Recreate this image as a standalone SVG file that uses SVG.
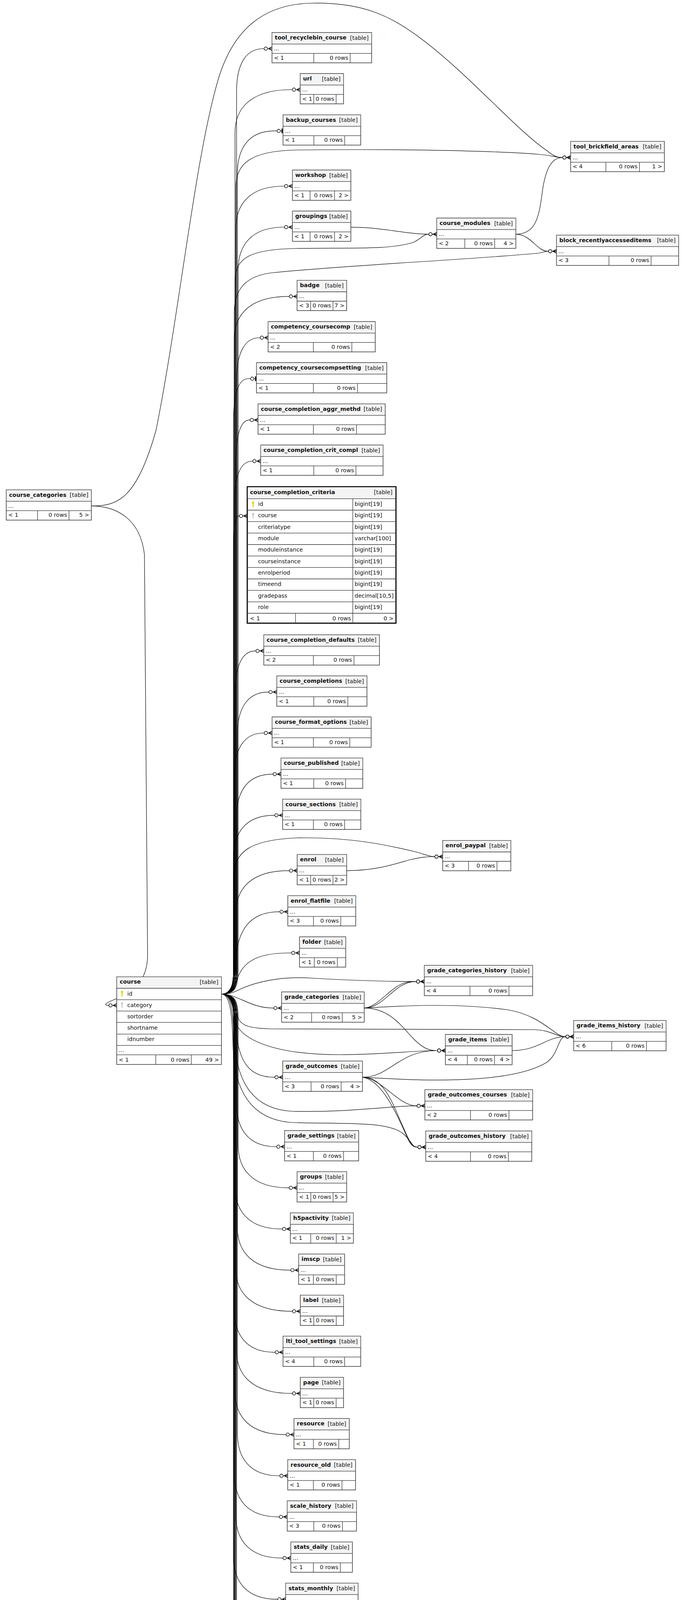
<svg xmlns="http://www.w3.org/2000/svg" width="1747" height="4922" viewBox="0 0 1747 4922">
<defs>
<style>
.bx{fill:#fff;stroke:#333;stroke-width:1.5}
.bk{fill:#fff;stroke:#000;stroke-width:2.8}
.hd{fill:#f4f4f4}
.ln{fill:none;stroke:#333;stroke-width:1.3}
text{font-family:"DejaVu Sans","Liberation Sans",sans-serif;font-size:14.4px;fill:#111}
.tt{font-weight:bold}
.e{text-anchor:end}
.ed{fill:none;stroke:#000;stroke-width:1.2;marker-end:url(#m)}
.ed1{fill:none;stroke:#000;stroke-width:1.2;marker-end:url(#o)}
.ky{fill:#d8cf00}
.kg{fill:#c4c4c4}
</style>
<marker id="m" viewBox="0 0 24 16" markerWidth="24" markerHeight="16" refX="22" refY="8" orient="auto" markerUnits="userSpaceOnUse">
<path d="M13,8L22,3.5M13,8L22,8M13,8L22,12.5" stroke="#000" stroke-width="1.6" fill="none"/>
<circle cx="6" cy="8" r="4.2" fill="#fff" stroke="#000" stroke-width="1.4"/>
</marker>
<marker id="o" viewBox="0 0 24 16" markerWidth="24" markerHeight="16" refX="22" refY="8" orient="auto" markerUnits="userSpaceOnUse">
<circle cx="11" cy="8" r="4.2" fill="#fff" stroke="#000" stroke-width="1.4"/>
<path d="M19.5,2V14" stroke="#000" stroke-width="2.6"/>
</marker>
<g id="key"><circle cx="0" cy="0" r="2.7"/><rect x="-1.1" y="1.5" width="2.2" height="10"/><rect x="0" y="7" width="2.5" height="1.6"/></g>
</defs>
<rect x="0" y="0" width="1747" height="4922" fill="#fff"/>

<g id="connectors">
<path class="ed" d="M567.3,2545C596,2545 606,2530 606,2485L606,234.5C606,169.5 626.6,124.5 674.7,124.5L696.7,124.5"/>
<path class="ed" d="M567.3,2545C592,2545 602,2530 602,2485L602,339.5C602,274.5 645.5,229.5 747,229.5L769,229.5"/>
<path class="ed1" d="M567.3,2545C598,2545 608,2530 608,2485L608,445.2C608,380.2 636.5,335.2 703,335.2L725,335.2"/>
<path class="ed" d="M567.3,2545C594,2545 604,2530 604,2485L604,586.5C604,521.5 640.9,476.5 727,476.5L749,476.5"/>
<path class="ed" d="M567.3,2545C600,2545 610,2530 610,2485L610,691.5C610,626.5 645.1,581.5 727,581.5L749,581.5"/>
<path class="ed" d="M567.3,2545C590,2545 600,2530 600,2485L600,868.9C600,803.9 641.7,758.9 739,758.9L761,758.9"/>
<path class="ed" d="M567.3,2545C596,2545 606,2530 606,2485L606,974.5C606,909.5 623.6,864.5 664.7,864.5L686.7,864.5"/>
<path class="ed1" d="M567.3,2545C588,2545 598,2530 598,2485L598,1079.5C598,1014.5 609.1,969.5 635,969.5L657,969.5"/>
<path class="ed" d="M567.3,2545C594,2545 604,2530 604,2485L604,1185.2C604,1120.2 614.5,1075.2 639,1075.2L661,1075.2"/>
<path class="ed" d="M567.3,2545C590,2545 600,2530 600,2485L600,1290.5C600,1225.5 613.7,1180.5 645.7,1180.5L667.7,1180.5"/>
<path class="ed" d="M567.3,2545C588,2545 598,2530 598,2485L598,1420.8C598,1360 600,1320.8 611.3,1320.8L633.3,1320.8"/>
<path class="ed" d="M567.3,2545C592,2545 602,2530 602,2485L602,1776.3C602,1711.3 617.5,1666.3 653.7,1666.3L675.7,1666.3"/>
<path class="ed" d="M567.3,2545C598,2545 608,2530 608,2485L608,1881.6C608,1816.6 631.7,1771.6 687,1771.6L709,1771.6"/>
<path class="ed" d="M567.3,2545C590,2545 600,2530 600,2485L600,1986.5C600,1921.5 622.5,1876.5 675,1876.5L697,1876.5"/>
<path class="ed" d="M567.3,2545C596,2545 606,2530 606,2485L606,2091.8C606,2026.8 633.5,1981.8 697.7,1981.8L719.7,1981.8"/>
<path class="ed" d="M567.3,2545C588,2545 598,2530 598,2485L598,2197.1C598,2132.1 629.2,2087.1 702,2087.1L724,2087.1"/>
<path class="ed" d="M567.3,2545C594,2545 604,2530 604,2485L604,2338.8C604,2273.8 644.6,2228.8 739.3,2228.8L761.3,2228.8"/>
<path class="ed" d="M567.3,2545C590,2545 600,2520 603,2470C606,2380 640,2334.1 715.3,2334.1L737.3,2334.1"/>
<path class="ed" d="M567.3,2545C590,2545 600,2530 610,2500C630,2450 680,2439.5 745.2,2439.5L767.2,2439.5"/>
<path class="ed" d="M567.3,2545C610,2545 640,2580.6 699.4,2580.6L721.4,2580.6"/>
<path class="ed" d="M567.3,2545C592,2545 600,2580 605,2640C612,2720 640,2757.7 702.3,2757.7L724.3,2757.7"/>
<path class="ed" d="M567.3,2545C596,2545 606,2560 606,2605L606,2825.5C606,2890.5 636.3,2935.5 707,2935.5L729,2935.5"/>
<path class="ed" d="M567.3,2545C600,2545 610,2560 610,2605L610,2930.8C610,2995.8 648.7,3040.8 739,3040.8L761,3040.8"/>
<path class="ed" d="M567.3,2545C592,2545 602,2560 602,2605L602,3036.2C602,3101.2 637.9,3146.2 721.7,3146.2L743.7,3146.2"/>
<path class="ed" d="M567.3,2545C598,2545 608,2560 608,2605L608,3141.6C608,3206.6 648.5,3251.6 743,3251.6L765,3251.6"/>
<path class="ed" d="M567.3,2545C594,2545 604,2560 604,2605L604,3246.9C604,3311.9 647,3356.9 747.3,3356.9L769.3,3356.9"/>
<path class="ed" d="M567.3,2545C590,2545 600,2560 600,2605L600,3351.8C600,3416.8 630.9,3461.8 703,3461.8L725,3461.8"/>
<path class="ed" d="M567.3,2545C596,2545 606,2560 606,2605L606,3457.2C606,3522.2 648.4,3567.2 747.3,3567.2L769.3,3567.2"/>
<path class="ed" d="M567.3,2545C592,2545 602,2560 602,2605L602,3562.6C602,3627.6 640.7,3672.6 731,3672.6L753,3672.6"/>
<path class="ed" d="M567.3,2545C598,2545 608,2560 608,2605L608,3668C608,3733 640.1,3778 715,3778L737,3778"/>
<path class="ed" d="M567.3,2545C590,2545 600,2560 600,2605L600,3773.3C600,3838.3 634.1,3883.3 713.7,3883.3L735.7,3883.3"/>
<path class="ed" d="M567.3,2545C594,2545 604,2560 604,2605L604,3878.7C604,3943.7 639.7,3988.7 723,3988.7L745,3988.7"/>
<path class="ed" d="M567.3,2545C588,2545 598,2560 598,2605L598,3984.1C598,4049.1 631.5,4094.1 709.7,4094.1L731.7,4094.1"/>
<path class="ed" d="M567.3,2545C596,2545 606,2560 606,2605L606,4089.4C606,4154.4 634.7,4199.4 701.7,4199.4L723.7,4199.4"/>
<path class="ed" d="M567.3,2545C592,2545 602,2560 602,2605L602,4194.7C602,4259.7 627.9,4304.7 688.4,4304.7L710.4,4304.7"/>
<path class="ed" d="M567.3,2545C590,2545 600,2560 600,2605L600,4300C600,4365 628,4410 693.4,4410L715.4,4410"/>
<path class="ed" d="M567.3,2545C594,2545 604,2560 604,2605L604,4405.3C604,4470.3 637.2,4515.3 714.8,4515.3L736.8,4515.3"/>
<path class="ed" d="M567.3,2545C588,2545 598,2560 598,2605L598,4510.6C598,4575.6 617.2,4620.6 661.9,4620.6L683.9,4620.6"/>
<path class="ed" d="M567.3,2545C592,2545 602,2560 602,2605L602,4615.9C602,4680.9 618,4725.9 655.4,4725.9L677.4,4725.9"/>
<path class="ed" d="M567.3,2545C590,2545 600,2560 600,2605L600,4721.2C600,4786.2 620.5,4831.2 668.2,4831.2L690.2,4831.2"/>
<path class="ed" d="M567.3,2545C594,2545 604,2530 604,2485L604,480C604,420 640,386 760,384C1000,381 1250,385 1380,395C1415,398 1425,403.3 1439.7,403.3L1461.7,403.3"/>
<path class="ed" d="M234,1295.3C300,1295.3 350,1280 400,1100C460,800 500,400 560,200C600,70 680,10 800,8C930,6 1000,40 1080,100C1200,190 1320,330 1400,385C1415,397 1425,403.3 1439.7,403.3L1461.7,403.3"/>
<path class="ed" d="M567.3,2545C592,2545 602,2530 602,2485L602,720C602,660 640,638 760,636C900,634 1000,640 1060,620C1080,610 1085,599.6 1096.7,599.6L1118.7,599.6"/>
<path class="ed" d="M898.7,581.6C980,581.6 1040,599.6 1096.7,599.6L1118.7,599.6"/>
<path class="ed" d="M567.3,2545C590,2545 600,2530 600,2485L600,800C600,740 630,705 700,698C900,678 1200,665 1380,648C1392,646 1395,643.3 1403.5,643.3L1425.5,643.3"/>
<path class="ed" d="M1321.4,599.6C1370,599.6 1380,560 1388,500C1395,440 1410,403.3 1439.7,403.3L1461.7,403.3"/>
<path class="ed" d="M1321.4,599.6C1360,599.6 1375,643.3 1403.5,643.3L1425.5,643.3"/>
<path class="ed" d="M567.3,2545C588,2545 598,2530 598,2490L598,2250C598,2180 640,2150 760,2145C900,2142 1000,2165 1070,2182C1090,2188 1100,2193 1112,2193L1134,2193"/>
<path class="ed" d="M888,2228.8C960,2228.8 1000,2215 1050,2201C1080,2194 1095,2193 1112,2193L1134,2193"/>
<path class="ed" d="M567.3,2545C590,2545 600,2540 620,2530C680,2505 740,2500 800,2504C900,2510 1000,2512.7 1064.9,2512.7L1086.9,2512.7"/>
<path class="ed" d="M933,2580.6C985,2580.6 1010,2512.7 1064.9,2512.7L1086.9,2512.7"/>
<path class="ed" d="M933,2580.6C970,2578 1000,2525 1040,2515C1050,2513 1055,2512.7 1064.9,2512.7L1086.9,2512.7"/>
<path class="ed" d="M933,2580.6C1000,2580.6 1030,2630 1060,2660C1085,2685 1100,2689.5 1118.9,2689.5L1140.9,2689.5"/>
<path class="ed" d="M933,2580.6C1000,2577 1150,2565 1300,2585C1390,2600 1420,2653.8 1447.5,2653.8L1469.5,2653.8"/>
<path class="ed" d="M567.3,2545C590,2545 600,2560 605,2590C612,2625 630,2633 700,2634L1370,2636C1410,2637 1425,2653.8 1447.5,2653.8L1469.5,2653.8"/>
<path class="ed" d="M567.3,2545C590,2545 598,2570 602,2610C610,2660 700,2700 870,2700C980,2700 1060,2689.5 1118.9,2689.5L1140.9,2689.5"/>
<path class="ed" d="M1311.8,2689.5C1380,2689.5 1400,2653.8 1447.5,2653.8L1469.5,2653.8"/>
<path class="ed" d="M928.5,2757.7C1000,2757.7 1020,2689.5 1118.9,2689.5L1140.9,2689.5"/>
<path class="ed" d="M928.5,2757.7C1050,2765 1300,2780 1400,2720C1430,2700 1430,2653.8 1447.5,2653.8L1469.5,2653.8"/>
<path class="ed" d="M928.5,2757.7C975,2757.7 1020,2830.9 1066.4,2830.9L1088.4,2830.9"/>
<path class="ed" d="M928.5,2757.7C990,2757.7 1010,2840 1035,2890C1050,2925 1055,2936.7 1068.6,2936.7L1090.6,2936.7"/>
<path class="ed" d="M928.5,2757.7C980,2765 1020,2860 1040,2905C1050,2930 1058,2936.7 1068.6,2936.7L1090.6,2936.7"/>
<path class="ed" d="M567.3,2545C590,2545 596,2580 598,2640C602,2760 640,2840 750,2845C900,2848 1000,2830.9 1066.4,2830.9L1088.4,2830.9"/>
<path class="ed" d="M567.3,2545C590,2545 595,2600 597,2680C600,2800 650,2872 760,2874C900,2877 990,2872 1030,2900C1055,2920 1055,2936.7 1068.6,2936.7L1090.6,2936.7"/>
<path class="ed" d="M234,1295.3C300,1295.3 360,1330 370,1420L378,2440C380,2520 330,2545 290,2560C270,2568 265,2573.8 277,2573.8L299,2573.8"/>
</g>

<g id="course_categories"><rect class="bx" x="16" y="1254" width="218" height="77.5"/><rect class="hd" x="16.75" y="1254.75" width="216.5" height="28.5"/><path class="ln" d="M16,1283.3H234M16,1307.3H234M96.3,1307.3V1331.5M176.7,1307.3V1331.5"/><text class="tt" x="23.3" y="1271.7">course_categories</text><text class="e" x="226.3" y="1272.2">[table]</text><text x="21" y="1299.7">...</text><text x="21" y="1323.2">&lt; 1</text><text class="e" x="171.7" y="1323.2">0 rows</text><text class="e" x="228.5" y="1323.2">5 &gt;</text></g>

<g id="course"><rect class="bx" x="299" y="2500.7" width="268.3" height="224.3"/><rect class="hd" x="299.75" y="2501.45" width="266.8" height="28.2"/><path class="ln" d="M299,2530H567.3M299,2559.3H567.3M299,2588.3H567.3M299,2617.3H567.3M299,2647.3H567.3M299,2676.3H567.3M299,2700.3H567.3M399,2700.3V2725M490,2700.3V2725"/><text class="tt" x="306.7" y="2518.4">course</text><text class="e" x="559.3" y="2519">[table]</text><use href="#key" class="ky" x="312.5" y="2539.5"/><use href="#key" class="kg" x="312.5" y="2568.6"/><text x="326" y="2548.5">id</text><text x="326" y="2577.6">category</text><text x="326" y="2606.6">sortorder</text><text x="326" y="2636">shortname</text><text x="326" y="2665">idnumber</text><text x="304" y="2693">...</text><text x="304" y="2717.5">&lt; 1</text><text class="e" x="485" y="2717.5">0 rows</text><text class="e" x="561" y="2717.5">49 &gt;</text></g>

<g id="course_completion_criteria"><rect class="bk" x="633.3" y="1246" width="381" height="349.3"/><rect class="hd" x="634.7" y="1247.4" width="378.2" height="29"/><path class="ln" d="M633.3,1276.7H1014.3M633.3,1306H1014.3M633.3,1335.3H1014.3M633.3,1364.7H1014.3M633.3,1394H1014.3M633.3,1423.3H1014.3M633.3,1452.7H1014.3M633.3,1482H1014.3M633.3,1511.3H1014.3M633.3,1540.7H1014.3M633.3,1570H1014.3M903.7,1276.7V1595.3M757,1570V1595.3"/><text class="tt" x="640.5" y="1264.5">course_completion_criteria</text><text class="e" x="1005.5" y="1265">[table]</text><use href="#key" class="ky" x="648.3" y="1286.7"/><use href="#key" class="kg" x="648.3" y="1316"/><text x="661" y="1295">id</text><text x="908.3" y="1295">bigint[19]</text><text x="661" y="1324.3">course</text><text x="908.3" y="1324.3">bigint[19]</text><text x="661" y="1353.6">criteriatype</text><text x="908.3" y="1353.6">bigint[19]</text><text x="661" y="1383">module</text><text x="908.3" y="1383">varchar[100]</text><text x="661" y="1412.3">moduleinstance</text><text x="908.3" y="1412.3">bigint[19]</text><text x="661" y="1441.6">courseinstance</text><text x="908.3" y="1441.6">bigint[19]</text><text x="661" y="1471">enrolperiod</text><text x="908.3" y="1471">bigint[19]</text><text x="661" y="1500.3">timeend</text><text x="908.3" y="1500.3">bigint[19]</text><text x="661" y="1529.6">gradepass</text><text x="908.3" y="1529.6">decimal[10,5]</text><text x="661" y="1559">role</text><text x="908.3" y="1559">bigint[19]</text><text x="640" y="1588">&lt; 1</text><text class="e" x="899" y="1588">0 rows</text><text class="e" x="1008.3" y="1588">0 &gt;</text></g>

<g id="tool_recyclebin_course"><rect class="bx" x="696.7" y="83.3" width="255.3" height="77.5"/><rect class="hd" x="697.45" y="84.05" width="253.8" height="28.5"/><path class="ln" d="M696.7,112.6H952M696.7,136.6H952M803.7,136.6V160.8M897,136.6V160.8"/><text class="tt" x="704" y="101">tool_recyclebin_course</text><text class="e" x="944.3" y="101.5">[table]</text><text x="701.7" y="129">...</text><text x="701.7" y="152.5">&lt; 1</text><text class="e" x="892" y="152.5">0 rows</text></g>

<g id="url"><rect class="bx" x="769" y="188.3" width="111" height="77.5"/><rect class="hd" x="769.75" y="189.05" width="109.5" height="28.5"/><path class="ln" d="M769,217.6H880M769,241.6H880M803.7,241.6V265.8M861,241.6V265.8"/><text class="tt" x="776.3" y="206">url</text><text class="e" x="872.3" y="206.5">[table]</text><text x="774" y="234">...</text><text x="774" y="257.5">&lt; 1</text><text class="e" x="856" y="257.5">0 rows</text></g>

<g id="backup_courses"><rect class="bx" x="725" y="294" width="199" height="77.5"/><rect class="hd" x="725.75" y="294.75" width="197.5" height="28.5"/><path class="ln" d="M725,323.3H924M725,347.3H924M804,347.3V371.5M883,347.3V371.5"/><text class="tt" x="732.3" y="311.7">backup_courses</text><text class="e" x="916.3" y="312.2">[table]</text><text x="730" y="339.7">...</text><text x="730" y="363.2">&lt; 1</text><text class="e" x="878" y="363.2">0 rows</text></g>

<g id="tool_brickfield_areas"><rect class="bx" x="1461.7" y="362" width="240.1" height="77.5"/><rect class="hd" x="1462.45" y="362.75" width="238.6" height="28.5"/><path class="ln" d="M1461.7,391.3H1701.8M1461.7,415.3H1701.8M1552,415.3V439.5M1638,415.3V439.5"/><text class="tt" x="1469" y="379.7">tool_brickfield_areas</text><text class="e" x="1694.1" y="380.2">[table]</text><text x="1466.7" y="407.7">...</text><text x="1466.7" y="431.2">&lt; 4</text><text class="e" x="1633" y="431.2">0 rows</text><text class="e" x="1696.3" y="431.2">1 &gt;</text></g>

<g id="workshop"><rect class="bx" x="749" y="435.3" width="149.7" height="77.5"/><rect class="hd" x="749.75" y="436.05" width="148.2" height="28.5"/><path class="ln" d="M749,464.6H898.7M749,488.6H898.7M794.3,488.6V512.8M857,488.6V512.8"/><text class="tt" x="756.3" y="453">workshop</text><text class="e" x="891" y="453.5">[table]</text><text x="754" y="481">...</text><text x="754" y="504.5">&lt; 1</text><text class="e" x="852" y="504.5">0 rows</text><text class="e" x="893.2" y="504.5">2 &gt;</text></g>

<g id="groupings"><rect class="bx" x="749" y="540.3" width="149.7" height="77.5"/><rect class="hd" x="749.75" y="541.05" width="148.2" height="28.5"/><path class="ln" d="M749,569.6H898.7M749,593.6H898.7M794.3,593.6V617.8M857,593.6V617.8"/><text class="tt" x="756.3" y="558">groupings</text><text class="e" x="891" y="558.5">[table]</text><text x="754" y="586">...</text><text x="754" y="609.5">&lt; 1</text><text class="e" x="852" y="609.5">0 rows</text><text class="e" x="893.2" y="609.5">2 &gt;</text></g>

<g id="course_modules"><rect class="bx" x="1118.7" y="558.3" width="202.7" height="77.5"/><rect class="hd" x="1119.45" y="559.05" width="201.2" height="28.5"/><path class="ln" d="M1118.7,587.6H1321.4M1118.7,611.6H1321.4M1190.6,611.6V635.8M1267.2,611.6V635.8"/><text class="tt" x="1126" y="576">course_modules</text><text class="e" x="1313.7" y="576.5">[table]</text><text x="1123.7" y="604">...</text><text x="1123.7" y="627.5">&lt; 2</text><text class="e" x="1262.2" y="627.5">0 rows</text><text class="e" x="1315.9" y="627.5">4 &gt;</text></g>

<g id="block_recentlyaccesseditems"><rect class="bx" x="1425.5" y="602" width="312.9" height="77.5"/><rect class="hd" x="1426.25" y="602.75" width="311.4" height="28.5"/><path class="ln" d="M1425.5,631.3H1738.4M1425.5,655.3H1738.4M1559.8,655.3V679.5M1667.8,655.3V679.5"/><text class="tt" x="1432.8" y="619.7">block_recentlyaccesseditems</text><text class="e" x="1730.7" y="620.2">[table]</text><text x="1430.5" y="647.7">...</text><text x="1430.5" y="671.2">&lt; 3</text><text class="e" x="1662.8" y="671.2">0 rows</text></g>

<g id="badge"><rect class="bx" x="761" y="717.7" width="127" height="77.5"/><rect class="hd" x="761.75" y="718.45" width="125.5" height="28.5"/><path class="ln" d="M761,747H888M761,771H888M795.7,771V795.2M853,771V795.2"/><text class="tt" x="768.3" y="735.4">badge</text><text class="e" x="880.3" y="735.9">[table]</text><text x="766" y="763.4">...</text><text x="766" y="786.9">&lt; 3</text><text class="e" x="848" y="786.9">0 rows</text><text class="e" x="882.5" y="786.9">7 &gt;</text></g>

<g id="competency_coursecomp"><rect class="bx" x="686.7" y="823.3" width="274.6" height="77.5"/><rect class="hd" x="687.45" y="824.05" width="273.1" height="28.5"/><path class="ln" d="M686.7,852.6H961.3M686.7,876.6H961.3M802.7,876.6V900.8M901.3,876.6V900.8"/><text class="tt" x="694" y="841">competency_coursecomp</text><text class="e" x="953.6" y="841.5">[table]</text><text x="691.7" y="869">...</text><text x="691.7" y="892.5">&lt; 2</text><text class="e" x="896.3" y="892.5">0 rows</text></g>

<g id="competency_coursecompsetting"><rect class="bx" x="657" y="928.3" width="333.7" height="77.5"/><rect class="hd" x="657.75" y="929.05" width="332.2" height="28.5"/><path class="ln" d="M657,957.6H990.7M657,981.6H990.7M802.7,981.6V1005.8M915.7,981.6V1005.8"/><text class="tt" x="664.3" y="946">competency_coursecompsetting</text><text class="e" x="983" y="946.5">[table]</text><text x="662" y="974">...</text><text x="662" y="997.5">&lt; 1</text><text class="e" x="910.7" y="997.5">0 rows</text></g>

<g id="course_completion_aggr_methd"><rect class="bx" x="661" y="1034" width="325.7" height="77.5"/><rect class="hd" x="661.75" y="1034.75" width="324.2" height="28.5"/><path class="ln" d="M661,1063.3H986.7M661,1087.3H986.7M802.7,1087.3V1111.5M913.3,1087.3V1111.5"/><text class="tt" x="668.3" y="1051.7">course_completion_aggr_methd</text><text class="e" x="979" y="1052.2">[table]</text><text x="666" y="1079.7">...</text><text x="666" y="1103.2">&lt; 1</text><text class="e" x="908.3" y="1103.2">0 rows</text></g>

<g id="course_completion_crit_compl"><rect class="bx" x="667.7" y="1139.3" width="313.6" height="77.5"/><rect class="hd" x="668.45" y="1140.05" width="312.1" height="28.5"/><path class="ln" d="M667.7,1168.6H981.3M667.7,1192.6H981.3M803.7,1192.6V1216.8M911.7,1192.6V1216.8"/><text class="tt" x="675" y="1157">course_completion_crit_compl</text><text class="e" x="973.6" y="1157.5">[table]</text><text x="672.7" y="1185">...</text><text x="672.7" y="1208.5">&lt; 1</text><text class="e" x="906.7" y="1208.5">0 rows</text></g>

<g id="course_completion_defaults"><rect class="bx" x="675.7" y="1625.1" width="296.3" height="77.5"/><rect class="hd" x="676.45" y="1625.85" width="294.8" height="28.5"/><path class="ln" d="M675.7,1654.4H972M675.7,1678.4H972M802.7,1678.4V1702.6M906.7,1678.4V1702.6"/><text class="tt" x="683" y="1642.8">course_completion_defaults</text><text class="e" x="964.3" y="1643.3">[table]</text><text x="680.7" y="1670.8">...</text><text x="680.7" y="1694.3">&lt; 2</text><text class="e" x="901.7" y="1694.3">0 rows</text></g>

<g id="course_completions"><rect class="bx" x="709" y="1730.4" width="231" height="77.5"/><rect class="hd" x="709.75" y="1731.15" width="229.5" height="28.5"/><path class="ln" d="M709,1759.7H940M709,1783.7H940M803.7,1783.7V1807.9M891,1783.7V1807.9"/><text class="tt" x="716.3" y="1748.1">course_completions</text><text class="e" x="932.3" y="1748.6">[table]</text><text x="714" y="1776.1">...</text><text x="714" y="1799.6">&lt; 1</text><text class="e" x="886" y="1799.6">0 rows</text></g>

<g id="course_format_options"><rect class="bx" x="697" y="1835.3" width="253.7" height="77.5"/><rect class="hd" x="697.75" y="1836.05" width="252.2" height="28.5"/><path class="ln" d="M697,1864.6H950.7M697,1888.6H950.7M802.7,1888.6V1912.8M896,1888.6V1912.8"/><text class="tt" x="704.3" y="1853">course_format_options</text><text class="e" x="943" y="1853.5">[table]</text><text x="702" y="1881">...</text><text x="702" y="1904.5">&lt; 1</text><text class="e" x="891" y="1904.5">0 rows</text></g>

<g id="course_published"><rect class="bx" x="719.7" y="1940.6" width="209.6" height="77.5"/><rect class="hd" x="720.45" y="1941.35" width="208.1" height="28.5"/><path class="ln" d="M719.7,1969.9H929.3M719.7,1993.9H929.3M803.7,1993.9V2018.1M885.3,1993.9V2018.1"/><text class="tt" x="727" y="1958.3">course_published</text><text class="e" x="921.6" y="1958.8">[table]</text><text x="724.7" y="1986.3">...</text><text x="724.7" y="2009.8">&lt; 1</text><text class="e" x="880.3" y="2009.8">0 rows</text></g>

<g id="course_sections"><rect class="bx" x="724" y="2045.9" width="200.3" height="77.5"/><rect class="hd" x="724.75" y="2046.65" width="198.8" height="28.5"/><path class="ln" d="M724,2075.2H924.3M724,2099.2H924.3M802.7,2099.2V2123.4M882.7,2099.2V2123.4"/><text class="tt" x="731.3" y="2063.6">course_sections</text><text class="e" x="916.6" y="2064.1">[table]</text><text x="729" y="2091.6">...</text><text x="729" y="2115.1">&lt; 1</text><text class="e" x="877.7" y="2115.1">0 rows</text></g>

<g id="enrol"><rect class="bx" x="761.3" y="2187.6" width="126.7" height="77.5"/><rect class="hd" x="762.05" y="2188.35" width="125.2" height="28.5"/><path class="ln" d="M761.3,2216.9H888M761.3,2240.9H888M795.7,2240.9V2265.1M853,2240.9V2265.1"/><text class="tt" x="768.6" y="2205.3">enrol</text><text class="e" x="880.3" y="2205.8">[table]</text><text x="766.3" y="2233.3">...</text><text x="766.3" y="2256.8">&lt; 1</text><text class="e" x="848" y="2256.8">0 rows</text><text class="e" x="882.5" y="2256.8">2 &gt;</text></g>

<g id="enrol_paypal"><rect class="bx" x="1134" y="2151.7" width="174.5" height="77.5"/><rect class="hd" x="1134.75" y="2152.45" width="173" height="28.5"/><path class="ln" d="M1134,2181H1308.5M1134,2205H1308.5M1200.2,2205V2229.2M1273,2205V2229.2"/><text class="tt" x="1141.3" y="2169.4">enrol_paypal</text><text class="e" x="1300.8" y="2169.9">[table]</text><text x="1139" y="2197.4">...</text><text x="1139" y="2220.9">&lt; 3</text><text class="e" x="1268" y="2220.9">0 rows</text></g>

<g id="enrol_flatfile"><rect class="bx" x="737.3" y="2292.9" width="174" height="77.5"/><rect class="hd" x="738.05" y="2293.65" width="172.5" height="28.5"/><path class="ln" d="M737.3,2322.2H911.3M737.3,2346.2H911.3M803,2346.2V2370.4M872.8,2346.2V2370.4"/><text class="tt" x="744.6" y="2310.6">enrol_flatfile</text><text class="e" x="903.6" y="2311.1">[table]</text><text x="742.3" y="2338.6">...</text><text x="742.3" y="2362.1">&lt; 3</text><text class="e" x="867.8" y="2362.1">0 rows</text></g>

<g id="folder"><rect class="bx" x="767.2" y="2398.3" width="118.4" height="77.5"/><rect class="hd" x="767.95" y="2399.05" width="116.9" height="28.5"/><path class="ln" d="M767.2,2427.6H885.6M767.2,2451.6H885.6M805,2451.6V2475.8M864.2,2451.6V2475.8"/><text class="tt" x="774.5" y="2416">folder</text><text class="e" x="877.9" y="2416.5">[table]</text><text x="772.2" y="2444">...</text><text x="772.2" y="2467.5">&lt; 1</text><text class="e" x="859.2" y="2467.5">0 rows</text></g>

<g id="grade_categories_history"><rect class="bx" x="1086.9" y="2471.4" width="277.5" height="77.5"/><rect class="hd" x="1087.65" y="2472.15" width="276" height="28.5"/><path class="ln" d="M1086.9,2500.7H1364.4M1086.9,2524.7H1364.4M1203.8,2524.7V2548.9M1303.7,2524.7V2548.9"/><text class="tt" x="1094.2" y="2489.1">grade_categories_history</text><text class="e" x="1356.7" y="2489.6">[table]</text><text x="1091.9" y="2517.1">...</text><text x="1091.9" y="2540.6">&lt; 4</text><text class="e" x="1298.7" y="2540.6">0 rows</text></g>

<g id="grade_categories"><rect class="bx" x="721.4" y="2539.3" width="211.6" height="77.5"/><rect class="hd" x="722.15" y="2540.05" width="210.1" height="28.5"/><path class="ln" d="M721.4,2568.6H933M721.4,2592.6H933M798.3,2592.6V2616.8M876.7,2592.6V2616.8"/><text class="tt" x="728.7" y="2557">grade_categories</text><text class="e" x="925.3" y="2557.5">[table]</text><text x="726.4" y="2585">...</text><text x="726.4" y="2608.5">&lt; 2</text><text class="e" x="871.7" y="2608.5">0 rows</text><text class="e" x="927.5" y="2608.5">5 &gt;</text></g>

<g id="grade_items_history"><rect class="bx" x="1469.5" y="2612.5" width="236.8" height="77.5"/><rect class="hd" x="1470.25" y="2613.25" width="235.3" height="28.5"/><path class="ln" d="M1469.5,2641.8H1706.3M1469.5,2665.8H1706.3M1567.1,2665.8V2690M1656,2665.8V2690"/><text class="tt" x="1476.8" y="2630.2">grade_items_history</text><text class="e" x="1698.6" y="2630.7">[table]</text><text x="1474.5" y="2658.2">...</text><text x="1474.5" y="2681.7">&lt; 6</text><text class="e" x="1651" y="2681.7">0 rows</text></g>

<g id="grade_items"><rect class="bx" x="1140.9" y="2648.2" width="170.9" height="77.5"/><rect class="hd" x="1141.65" y="2648.95" width="169.4" height="28.5"/><path class="ln" d="M1140.9,2677.5H1311.8M1140.9,2701.5H1311.8M1197.2,2701.5V2725.7M1266.7,2701.5V2725.7"/><text class="tt" x="1148.2" y="2665.9">grade_items</text><text class="e" x="1304.1" y="2666.4">[table]</text><text x="1145.9" y="2693.9">...</text><text x="1145.9" y="2717.4">&lt; 4</text><text class="e" x="1261.7" y="2717.4">0 rows</text><text class="e" x="1306.3" y="2717.4">4 &gt;</text></g>

<g id="grade_outcomes"><rect class="bx" x="724.3" y="2716.4" width="204.2" height="77.5"/><rect class="hd" x="725.05" y="2717.15" width="202.7" height="28.5"/><path class="ln" d="M724.3,2745.7H928.5M724.3,2769.7H928.5M796.8,2769.7V2793.9M873.8,2769.7V2793.9"/><text class="tt" x="731.6" y="2734.1">grade_outcomes</text><text class="e" x="920.8" y="2734.6">[table]</text><text x="729.3" y="2762.1">...</text><text x="729.3" y="2785.6">&lt; 3</text><text class="e" x="868.8" y="2785.6">0 rows</text><text class="e" x="923" y="2785.6">4 &gt;</text></g>

<g id="grade_outcomes_courses"><rect class="bx" x="1088.4" y="2789.6" width="276" height="77.5"/><rect class="hd" x="1089.15" y="2790.35" width="274.5" height="28.5"/><path class="ln" d="M1088.4,2818.9H1364.4M1088.4,2842.9H1364.4M1205.3,2842.9V2867.1M1303.7,2842.9V2867.1"/><text class="tt" x="1095.7" y="2807.3">grade_outcomes_courses</text><text class="e" x="1356.7" y="2807.8">[table]</text><text x="1093.4" y="2835.3">...</text><text x="1093.4" y="2858.8">&lt; 2</text><text class="e" x="1298.7" y="2858.8">0 rows</text></g>

<g id="grade_outcomes_history"><rect class="bx" x="1090.6" y="2895.4" width="271.6" height="77.5"/><rect class="hd" x="1091.35" y="2896.15" width="270.1" height="28.5"/><path class="ln" d="M1090.6,2924.7H1362.2M1090.6,2948.7H1362.2M1205.3,2948.7V2972.9M1302.2,2948.7V2972.9"/><text class="tt" x="1097.9" y="2913.1">grade_outcomes_history</text><text class="e" x="1354.5" y="2913.6">[table]</text><text x="1095.6" y="2941.1">...</text><text x="1095.6" y="2964.6">&lt; 4</text><text class="e" x="1297.2" y="2964.6">0 rows</text></g>

<g id="grade_settings"><rect class="bx" x="729" y="2894.3" width="189.7" height="77.5"/><rect class="hd" x="729.75" y="2895.05" width="188.2" height="28.5"/><path class="ln" d="M729,2923.6H918.7M729,2947.6H918.7M802.7,2947.6V2971.8M880,2947.6V2971.8"/><text class="tt" x="736.3" y="2912">grade_settings</text><text class="e" x="911" y="2912.5">[table]</text><text x="734" y="2940">...</text><text x="734" y="2963.5">&lt; 1</text><text class="e" x="875" y="2963.5">0 rows</text></g>

<g id="groups"><rect class="bx" x="761" y="2999.6" width="127" height="77.5"/><rect class="hd" x="761.75" y="3000.35" width="125.5" height="28.5"/><path class="ln" d="M761,3028.9H888M761,3052.9H888M796.3,3052.9V3077.1M853.3,3052.9V3077.1"/><text class="tt" x="768.3" y="3017.3">groups</text><text class="e" x="880.3" y="3017.8">[table]</text><text x="766" y="3045.3">...</text><text x="766" y="3068.8">&lt; 1</text><text class="e" x="848.3" y="3068.8">0 rows</text><text class="e" x="882.5" y="3068.8">5 &gt;</text></g>

<g id="h5pactivity"><rect class="bx" x="743.7" y="3105" width="161.6" height="77.5"/><rect class="hd" x="744.45" y="3105.75" width="160.1" height="28.5"/><path class="ln" d="M743.7,3134.3H905.3M743.7,3158.3H905.3M796,3158.3V3182.5M861.3,3158.3V3182.5"/><text class="tt" x="751" y="3122.7">h5pactivity</text><text class="e" x="897.6" y="3123.2">[table]</text><text x="748.7" y="3150.7">...</text><text x="748.7" y="3174.2">&lt; 1</text><text class="e" x="856.3" y="3174.2">0 rows</text><text class="e" x="899.8" y="3174.2">1 &gt;</text></g>

<g id="imscp"><rect class="bx" x="765" y="3210.4" width="117.7" height="77.5"/><rect class="hd" x="765.75" y="3211.15" width="116.2" height="28.5"/><path class="ln" d="M765,3239.7H882.7M765,3263.7H882.7M802.7,3263.7V3287.9M861.3,3263.7V3287.9"/><text class="tt" x="772.3" y="3228.1">imscp</text><text class="e" x="875" y="3228.6">[table]</text><text x="770" y="3256.1">...</text><text x="770" y="3279.6">&lt; 1</text><text class="e" x="856.3" y="3279.6">0 rows</text></g>

<g id="label"><rect class="bx" x="769.3" y="3315.7" width="110.7" height="77.5"/><rect class="hd" x="770.05" y="3316.45" width="109.2" height="28.5"/><path class="ln" d="M769.3,3345H880M769.3,3369H880M803.7,3369V3393.2M861.3,3369V3393.2"/><text class="tt" x="776.6" y="3333.4">label</text><text class="e" x="872.3" y="3333.9">[table]</text><text x="774.3" y="3361.4">...</text><text x="774.3" y="3384.9">&lt; 1</text><text class="e" x="856.3" y="3384.9">0 rows</text></g>

<g id="lti_tool_settings"><rect class="bx" x="725" y="3420.6" width="199" height="77.5"/><rect class="hd" x="725.75" y="3421.35" width="197.5" height="28.5"/><path class="ln" d="M725,3449.9H924M725,3473.9H924M803.7,3473.9V3498.1M882.7,3473.9V3498.1"/><text class="tt" x="732.3" y="3438.3">lti_tool_settings</text><text class="e" x="916.3" y="3438.8">[table]</text><text x="730" y="3466.3">...</text><text x="730" y="3489.8">&lt; 4</text><text class="e" x="877.7" y="3489.8">0 rows</text></g>

<g id="page"><rect class="bx" x="769.3" y="3526" width="110.7" height="77.5"/><rect class="hd" x="770.05" y="3526.75" width="109.2" height="28.5"/><path class="ln" d="M769.3,3555.3H880M769.3,3579.3H880M803.7,3579.3V3603.5M861,3579.3V3603.5"/><text class="tt" x="776.6" y="3543.7">page</text><text class="e" x="872.3" y="3544.2">[table]</text><text x="774.3" y="3571.7">...</text><text x="774.3" y="3595.2">&lt; 1</text><text class="e" x="856" y="3595.2">0 rows</text></g>

<g id="resource"><rect class="bx" x="753" y="3631.4" width="141.7" height="77.5"/><rect class="hd" x="753.75" y="3632.15" width="140.2" height="28.5"/><path class="ln" d="M753,3660.7H894.7M753,3684.7H894.7M802.7,3684.7V3708.9M867.7,3684.7V3708.9"/><text class="tt" x="760.3" y="3649.1">resource</text><text class="e" x="887" y="3649.6">[table]</text><text x="758" y="3677.1">...</text><text x="758" y="3700.6">&lt; 1</text><text class="e" x="862.7" y="3700.6">0 rows</text></g>

<g id="resource_old"><rect class="bx" x="737" y="3736.8" width="173.7" height="77.5"/><rect class="hd" x="737.75" y="3737.55" width="172.2" height="28.5"/><path class="ln" d="M737,3766.1H910.7M737,3790.1H910.7M802.7,3790.1V3814.3M876,3790.1V3814.3"/><text class="tt" x="744.3" y="3754.5">resource_old</text><text class="e" x="903" y="3755">[table]</text><text x="742" y="3782.5">...</text><text x="742" y="3806">&lt; 1</text><text class="e" x="871" y="3806">0 rows</text></g>

<g id="scale_history"><rect class="bx" x="735.7" y="3842.1" width="177.6" height="77.5"/><rect class="hd" x="736.45" y="3842.85" width="176.1" height="28.5"/><path class="ln" d="M735.7,3871.4H913.3M735.7,3895.4H913.3M803.7,3895.4V3919.6M877.3,3895.4V3919.6"/><text class="tt" x="743" y="3859.8">scale_history</text><text class="e" x="905.6" y="3860.3">[table]</text><text x="740.7" y="3887.8">...</text><text x="740.7" y="3911.3">&lt; 3</text><text class="e" x="872.3" y="3911.3">0 rows</text></g>

<g id="stats_daily"><rect class="bx" x="745" y="3947.5" width="157.7" height="77.5"/><rect class="hd" x="745.75" y="3948.25" width="156.2" height="28.5"/><path class="ln" d="M745,3976.8H902.7M745,4000.8H902.7M802.7,4000.8V4025M871.7,4000.8V4025"/><text class="tt" x="752.3" y="3965.2">stats_daily</text><text class="e" x="895" y="3965.7">[table]</text><text x="750" y="3993.2">...</text><text x="750" y="4016.7">&lt; 1</text><text class="e" x="866.7" y="4016.7">0 rows</text></g>

<g id="stats_monthly"><rect class="bx" x="731.7" y="4052.9" width="185.6" height="77.5"/><rect class="hd" x="732.45" y="4053.65" width="184.1" height="28.5"/><path class="ln" d="M731.7,4082.2H917.3M731.7,4106.2H917.3M803.7,4106.2V4130.4M880,4106.2V4130.4"/><text class="tt" x="739" y="4070.6">stats_monthly</text><text class="e" x="909.6" y="4071.1">[table]</text><text x="736.7" y="4098.6">...</text><text x="736.7" y="4122.1">&lt; 1</text><text class="e" x="875" y="4122.1">0 rows</text></g>

<g id="stats_user_daily"><rect class="bx" x="723.7" y="4158.2" width="201.6" height="77.5"/><rect class="hd" x="724.45" y="4158.95" width="200.1" height="28.5"/><path class="ln" d="M723.7,4187.5H925.3M723.7,4211.5H925.3M803.7,4211.5V4235.7M883.7,4211.5V4235.7"/><text class="tt" x="731" y="4175.9">stats_user_daily</text><text class="e" x="917.6" y="4176.4">[table]</text><text x="728.7" y="4203.9">...</text><text x="728.7" y="4227.4">&lt; 1</text><text class="e" x="878.7" y="4227.4">0 rows</text></g>

<g id="stats_user_monthly"><rect class="bx" x="710.4" y="4263.5" width="227.7" height="77.5"/><rect class="hd" x="711.15" y="4264.25" width="226.2" height="28.5"/><path class="ln" d="M710.4,4292.8H938.1M710.4,4316.8H938.1M803,4316.8V4341M888.4,4316.8V4341"/><text class="tt" x="717.7" y="4281.2">stats_user_monthly</text><text class="e" x="930.4" y="4281.7">[table]</text><text x="715.4" y="4309.2">...</text><text x="715.4" y="4332.7">&lt; 1</text><text class="e" x="883.4" y="4332.7">0 rows</text></g>

<g id="stats_user_weekly"><rect class="bx" x="715.4" y="4368.8" width="217.8" height="77.5"/><rect class="hd" x="716.15" y="4369.55" width="216.3" height="28.5"/><path class="ln" d="M715.4,4398.1H933.2M715.4,4422.1H933.2M803,4422.1V4446.3M885.5,4422.1V4446.3"/><text class="tt" x="722.7" y="4386.5">stats_user_weekly</text><text class="e" x="925.5" y="4387">[table]</text><text x="720.4" y="4414.5">...</text><text x="720.4" y="4438">&lt; 1</text><text class="e" x="880.5" y="4438">0 rows</text></g>

<g id="stats_weekly"><rect class="bx" x="736.8" y="4474.1" width="175" height="77.5"/><rect class="hd" x="737.55" y="4474.85" width="173.5" height="28.5"/><path class="ln" d="M736.8,4503.4H911.8M736.8,4527.4H911.8M803,4527.4V4551.6M873,4527.4V4551.6"/><text class="tt" x="744.1" y="4491.8">stats_weekly</text><text class="e" x="904.1" y="4492.3">[table]</text><text x="741.8" y="4519.8">...</text><text x="741.8" y="4543.3">&lt; 1</text><text class="e" x="868" y="4543.3">0 rows</text></g>

<g id="tool_brickfield_cache_acts"><rect class="bx" x="683.9" y="4579.4" width="280.8" height="77.5"/><rect class="hd" x="684.65" y="4580.15" width="279.3" height="28.5"/><path class="ln" d="M683.9,4608.7H964.7M683.9,4632.7H964.7M803,4632.7V4656.9M903.8,4632.7V4656.9"/><text class="tt" x="691.2" y="4597.1">tool_brickfield_cache_acts</text><text class="e" x="957" y="4597.6">[table]</text><text x="688.9" y="4625.1">...</text><text x="688.9" y="4648.6">&lt; 1</text><text class="e" x="898.8" y="4648.6">0 rows</text></g>

<g id="tool_brickfield_cache_check"><rect class="bx" x="677.4" y="4684.7" width="293.8" height="77.5"/><rect class="hd" x="678.15" y="4685.45" width="292.3" height="28.5"/><path class="ln" d="M677.4,4714H971.2M677.4,4738H971.2M803,4738V4762.2M907.6,4738V4762.2"/><text class="tt" x="684.7" y="4702.4">tool_brickfield_cache_check</text><text class="e" x="963.5" y="4702.9">[table]</text><text x="682.4" y="4730.4">...</text><text x="682.4" y="4753.9">&lt; 1</text><text class="e" x="902.6" y="4753.9">0 rows</text></g>

<g id="tool_brickfield_summary"><rect class="bx" x="690.2" y="4790" width="268.1" height="77.5"/><rect class="hd" x="690.95" y="4790.75" width="266.6" height="28.5"/><path class="ln" d="M690.2,4819.3H958.3M690.2,4843.3H958.3M803,4843.3V4867.5M900.1,4843.3V4867.5"/><text class="tt" x="697.5" y="4807.7">tool_brickfield_summary</text><text class="e" x="950.6" y="4808.2">[table]</text><text x="695.2" y="4835.7">...</text><text x="695.2" y="4859.2">&lt; 1</text><text class="e" x="895.1" y="4859.2">0 rows</text></g>

<text x="16" y="4906">Generated by SchemaSpy</text>
</svg>
